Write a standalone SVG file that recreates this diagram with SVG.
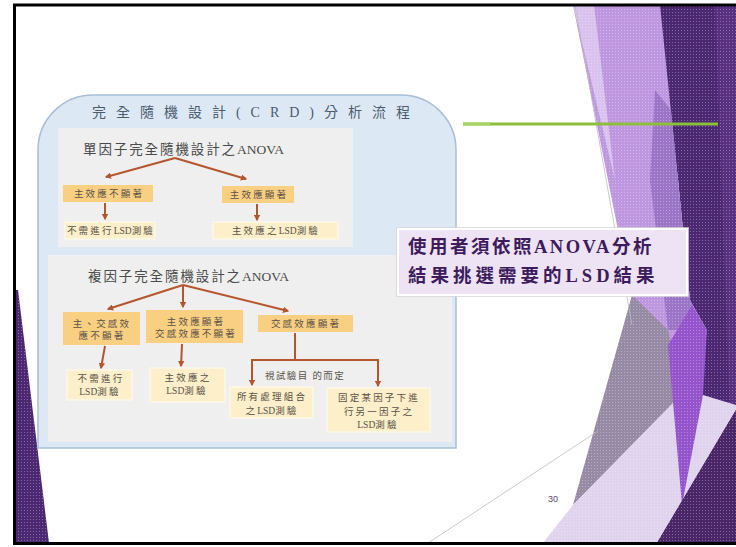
<svg xmlns="http://www.w3.org/2000/svg" width="736" height="547" viewBox="0 0 736 547">
<defs>
<style>
.hdr{font-family:"Liberation Serif","Noto Sans CJK TC",serif;font-size:13.5px;fill:#4a4a4a;letter-spacing:1.9px}
.bx{font-family:"Liberation Serif","Noto Sans CJK TC",serif;font-size:9.5px;fill:#5a5248;letter-spacing:2.2px}
.lat{letter-spacing:0px}
.lv1{fill:#f9cf82}
.leaf{fill:#fcefca;stroke:#fdf7e6;stroke-width:1.5}
.arr{stroke:#b5552d;stroke-width:2;fill:none}
.gl{stroke:#bdbdbd;stroke-width:0.8;fill:none}
.call{font-family:"Liberation Serif","Noto Sans CJK TC",serif;font-size:18.5px;font-weight:bold;fill:#3d1b5c}
</style>
<marker id="ah" viewBox="0 0 10 10" refX="8" refY="5" markerWidth="3.2" markerHeight="3.2" orient="auto">
<path d="M0,0 L10,5 L0,10 Z" fill="#b5552d"/>
</marker>
<pattern id="dots" width="3" height="3" patternUnits="userSpaceOnUse">
<rect x="0" y="0" width="1" height="1" fill="#ffffff" fill-opacity="0.3"/>
</pattern>
<clipPath id="decoClip">
<polygon points="573,5 736,5 736,543 543,543 573,505 632,295"/>
<polygon points="16,290 18,290 49,543 16,543"/>
</clipPath>
</defs>

<rect x="0" y="0" width="736" height="547" fill="#ffffff"/>

<g id="decoration">
<polygon points="657,5 736,5 736,543 650,543 703,360 690,300 678,180" fill="#4c2872"/>
<polygon points="715,5 736,5 736,420 730,420" fill="#58307f"/>
<polygon points="573,5 660,5 678,180 690,300 707,330 703,360 683,393 632,300" fill="#bf96e0"/>
<polygon points="573,5 594,5 615,180" fill="#d9c2ee"/>
<polygon points="655,90 671,110 678,180 690,300 702,330 668,330 650,180" fill="#9d75c8"/>
<polygon points="632,295 668,330 683,393 573,505" fill="#968aa5"/>
<polygon points="543,543 573,505 683,393 703,395 736,405 736,410 657,543" fill="#e0d3ee"/>
<polygon points="692,305 707,330 703,395 682,505 668,345" fill="#9553cc"/>
<polygon points="657,543 736,410 736,543" fill="#4a2668"/>
<polygon points="16,290 18,290 49,543 16,543" fill="#4c2872"/>
<rect x="0" y="0" width="736" height="547" fill="url(#dots)" clip-path="url(#decoClip)"/>
<line class="gl" x1="575" y1="5" x2="632" y2="325"/>
<line class="gl" x1="425" y1="545" x2="598" y2="431"/>
<line x1="463" y1="124" x2="718" y2="124" stroke="#8cbf3c" stroke-width="3"/>
<line x1="463" y1="124" x2="490" y2="124" stroke="#a6d468" stroke-width="3"/>
</g>

<g id="panel">
<path d="M38,448 V150 A55,55 0 0 1 93,95 H401 A55,55 0 0 1 456,150 V448 Z" fill="#dce9f5" stroke="#a8bed5" stroke-width="1.5"/>
<rect x="58" y="128" width="295" height="119" fill="#efefef"/>
<rect x="48" y="255" width="404" height="187" fill="#efefef"/>
<text x="92" y="117" font-family="Liberation Serif,Noto Sans CJK TC,serif" font-size="14" fill="#4b5b6e" textLength="318" lengthAdjust="spacing">完全隨機設計(CRD)分析流程</text>
</g>

<g id="connectors">
<line class="arr" x1="175" y1="158" x2="106" y2="177" marker-end="url(#ah)"/>
<line class="arr" x1="175" y1="158" x2="246" y2="179" marker-end="url(#ah)"/>
<line class="arr" x1="105" y1="203" x2="105" y2="219" marker-end="url(#ah)"/>
<line class="arr" x1="257" y1="204" x2="257" y2="220" marker-end="url(#ah)"/>
<line class="arr" x1="183" y1="285" x2="108" y2="309" marker-end="url(#ah)"/>
<line class="arr" x1="183" y1="285" x2="183" y2="307" marker-end="url(#ah)"/>
<line class="arr" x1="183" y1="285" x2="288" y2="311" marker-end="url(#ah)"/>
<line class="arr" x1="105" y1="346" x2="101" y2="368" marker-end="url(#ah)"/>
<line class="arr" x1="182" y1="344" x2="181" y2="366" marker-end="url(#ah)"/>
<line class="arr" x1="295" y1="333" x2="295" y2="360"/>
<line class="arr" x1="252" y1="360" x2="378" y2="360"/>
<line class="arr" x1="252" y1="359" x2="252" y2="385" marker-end="url(#ah)"/>
<line class="arr" x1="378" y1="359" x2="378" y2="386" marker-end="url(#ah)"/>
</g>

<g id="title-single">
<text class="hdr" x="83" y="154">單因子完全隨機設計之<tspan class="lat">ANOVA</tspan></text>
</g>
<g id="n-s-ns">
<rect class="lv1" x="63" y="185" width="90" height="17"/>
<text class="bx" x="109" y="197" text-anchor="middle">主效應不顯著</text>
</g>
<g id="n-s-sig">
<rect class="lv1" x="222" y="186" width="72" height="17"/>
<text class="bx" x="259" y="198" text-anchor="middle">主效應顯著</text>
</g>
<g id="n-s-nolsd">
<rect class="leaf" x="65" y="222" width="90" height="17"/>
<text class="bx" x="111" y="234" text-anchor="middle">不需進行<tspan class="lat">LSD</tspan>測驗</text>
</g>
<g id="n-s-lsd">
<rect class="leaf" x="213" y="222" width="125" height="17"/>
<text class="bx" x="276" y="234" text-anchor="middle">主效應之<tspan class="lat">LSD</tspan>測驗</text>
</g>

<g id="title-multi">
<text class="hdr" x="88" y="281">複因子完全隨機設計之<tspan class="lat">ANOVA</tspan></text>
</g>
<g id="n-m-ns">
<rect class="lv1" x="63" y="312" width="77" height="33"/>
<text class="bx" x="102" y="327" text-anchor="middle">主、交感效</text>
<text class="bx" x="102" y="339" text-anchor="middle">應不顯著</text>
</g>
<g id="n-m-main">
<rect class="lv1" x="146" y="310" width="97" height="33"/>
<text class="bx" x="196" y="325" text-anchor="middle">主效應顯著</text>
<text class="bx" x="196" y="337" text-anchor="middle">交感效應不顯著</text>
</g>
<g id="n-m-inter">
<rect class="lv1" x="258" y="315" width="95" height="17"/>
<text class="bx" x="306" y="327" text-anchor="middle">交感效應顯著</text>
</g>
<g id="lbl-purpose">
<text class="bx" x="265" y="379" style="letter-spacing:1.4px">視試驗目 的而定</text>
</g>
<g id="n-m-nolsd">
<rect class="leaf" x="67" y="370" width="65" height="30"/>
<text class="bx" x="101" y="382" text-anchor="middle">不需進行</text>
<text class="bx" x="100" y="395" text-anchor="middle"><tspan class="lat">LSD</tspan>測驗</text>
</g>
<g id="n-m-mainlsd">
<rect class="leaf" x="150" y="368" width="75" height="34"/>
<text class="bx" x="188" y="381" text-anchor="middle">主效應之</text>
<text class="bx" x="187" y="394" text-anchor="middle"><tspan class="lat">LSD</tspan>測驗</text>
</g>
<g id="n-m-all">
<rect class="leaf" x="230" y="387" width="83" height="31"/>
<text class="bx" x="272" y="400" text-anchor="middle">所有處理組合</text>
<text class="bx" x="272" y="414" text-anchor="middle">之<tspan class="lat">LSD</tspan>測驗</text>
</g>
<g id="n-m-fixed">
<rect class="leaf" x="327" y="388" width="103" height="44"/>
<text class="bx" x="379" y="401" text-anchor="middle">固定某因子下進</text>
<text class="bx" x="379" y="415" text-anchor="middle">行另一因子之</text>
<text class="bx" x="378" y="428" text-anchor="middle"><tspan class="lat">LSD</tspan>測驗</text>
</g>

<g id="callout">
<rect x="398" y="229" width="289" height="66" fill="#ede3f5" stroke="#ffffff" stroke-width="2"/>
<rect x="396.5" y="227.5" width="292" height="69" fill="none" stroke="#d8d8d8" stroke-width="0.8"/>
<text class="call" x="408" y="253" style="letter-spacing:2.5px">使用者須依照ANOVA分析</text>
<text class="call" x="408" y="282" style="letter-spacing:4px">結果挑選需要的LSD結果</text>
</g>

<g id="page-number">
<text x="548" y="502" font-family="Liberation Sans,Arial,sans-serif" font-size="9" fill="#5a4a70">30</text>
</g>

<rect x="14.5" y="5" width="725" height="538.5" fill="none" stroke="#000000" stroke-width="3"/>
</svg>
